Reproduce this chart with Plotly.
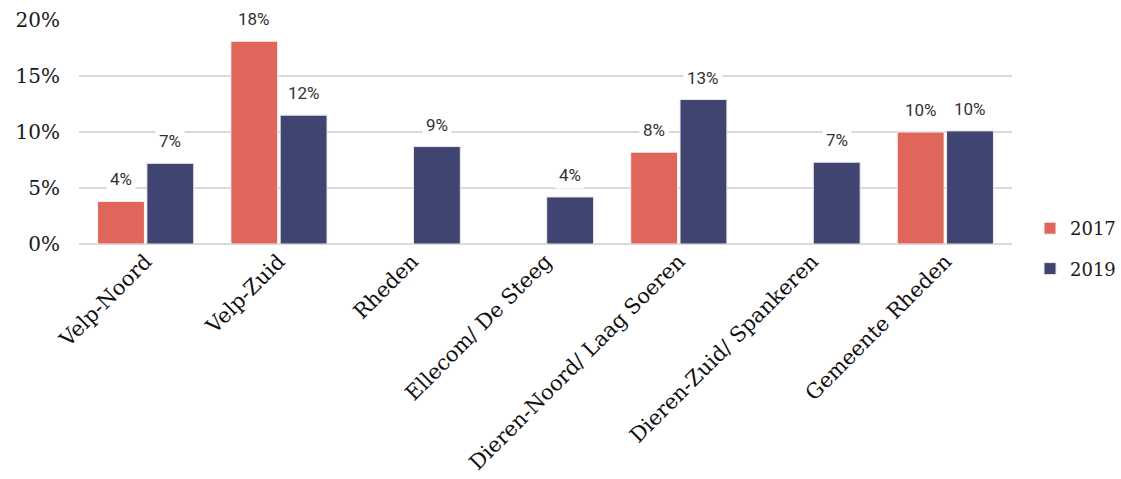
import plotly.graph_objects as go

categories = ["Velp-Noord", "Velp-Zuid", "Rheden", "Ellecom/ De Steeg",
              "Dieren-Noord/ Laag Soeren", "Dieren-Zuid/ Spankeren", "Gemeente Rheden"]
values_2017 = [3.8, 18.1, None, None, 8.2, None, 10.0]
values_2019 = [7.2, 11.5, 8.7, 4.2, 12.9, 7.3, 10.1]
labels_2017 = ["4%", "18%", "", "", "8%", "", "10%"]
labels_2019 = ["7%", "12%", "9%", "4%", "13%", "7%", "10%"]
y_ticks = [0, 5, 10, 15, 20]
y_ticklabels = ["0%", "5%", "10%", "15%", "20%"]

c2017 = "#E0665C"
c2019 = "#404470"
serif = "DejaVu Serif"

fig = go.Figure()
fig.add_trace(go.Bar(name="2017", x=categories, y=values_2017, marker_color=c2017,
                     legendgroup="a",
                     marker_line=dict(color="#f4f4f4", width=1)))
fig.add_trace(go.Bar(name="2019", x=categories, y=values_2019, marker_color=c2019,
                     legendgroup="b",
                     marker_line=dict(color="#e8e8ee", width=1)))

bargap = 0.26
bargroupgap = 0.05
offset = (1 - bargap) / 4
for i, cat in enumerate(categories):
    for vals, labs, sgn in ((values_2017, labels_2017, -1), (values_2019, labels_2019, 1)):
        if vals[i] is None:
            continue
        fig.add_annotation(x=i + sgn * offset, y=vals[i], xref="x", yref="y",
                           text=labs[i], showarrow=False, yshift=22,
                           bgcolor="white", borderpad=3,
                           font=dict(family="Roboto", size=17, color="#333"))

fig.update_layout(
    width=1121, height=479,
    margin=dict(l=79, r=109, t=20, b=235, autoexpand=False),
    plot_bgcolor="white", paper_bgcolor="white",
    barmode="group", bargap=bargap, bargroupgap=bargroupgap,
    showlegend=True,
    legend=dict(xref="container", yref="container", x=1030 / 1121, y=1 - 210 / 479,
                xanchor="left", yanchor="top",
                font=dict(family=serif, size=18, color="#1a1a1a"),
                itemwidth=30, tracegroupgap=14),
    xaxis=dict(tickangle=-45, tickfont=dict(family=serif, size=21, color="#111"),
               showgrid=False, showline=False, ticks=""),
    yaxis=dict(range=[0, 20], tickvals=y_ticks, ticktext=y_ticklabels,
               tickfont=dict(family=serif, size=20, color="#1a1a1a"),
               showgrid=True, gridcolor="#d9d9d9", gridwidth=2,
               zeroline=True, zerolinecolor="#d9d9d9", zerolinewidth=2,
               ticks="", ticklabelstandoff=18),
)

fig.write_html("out.html")
